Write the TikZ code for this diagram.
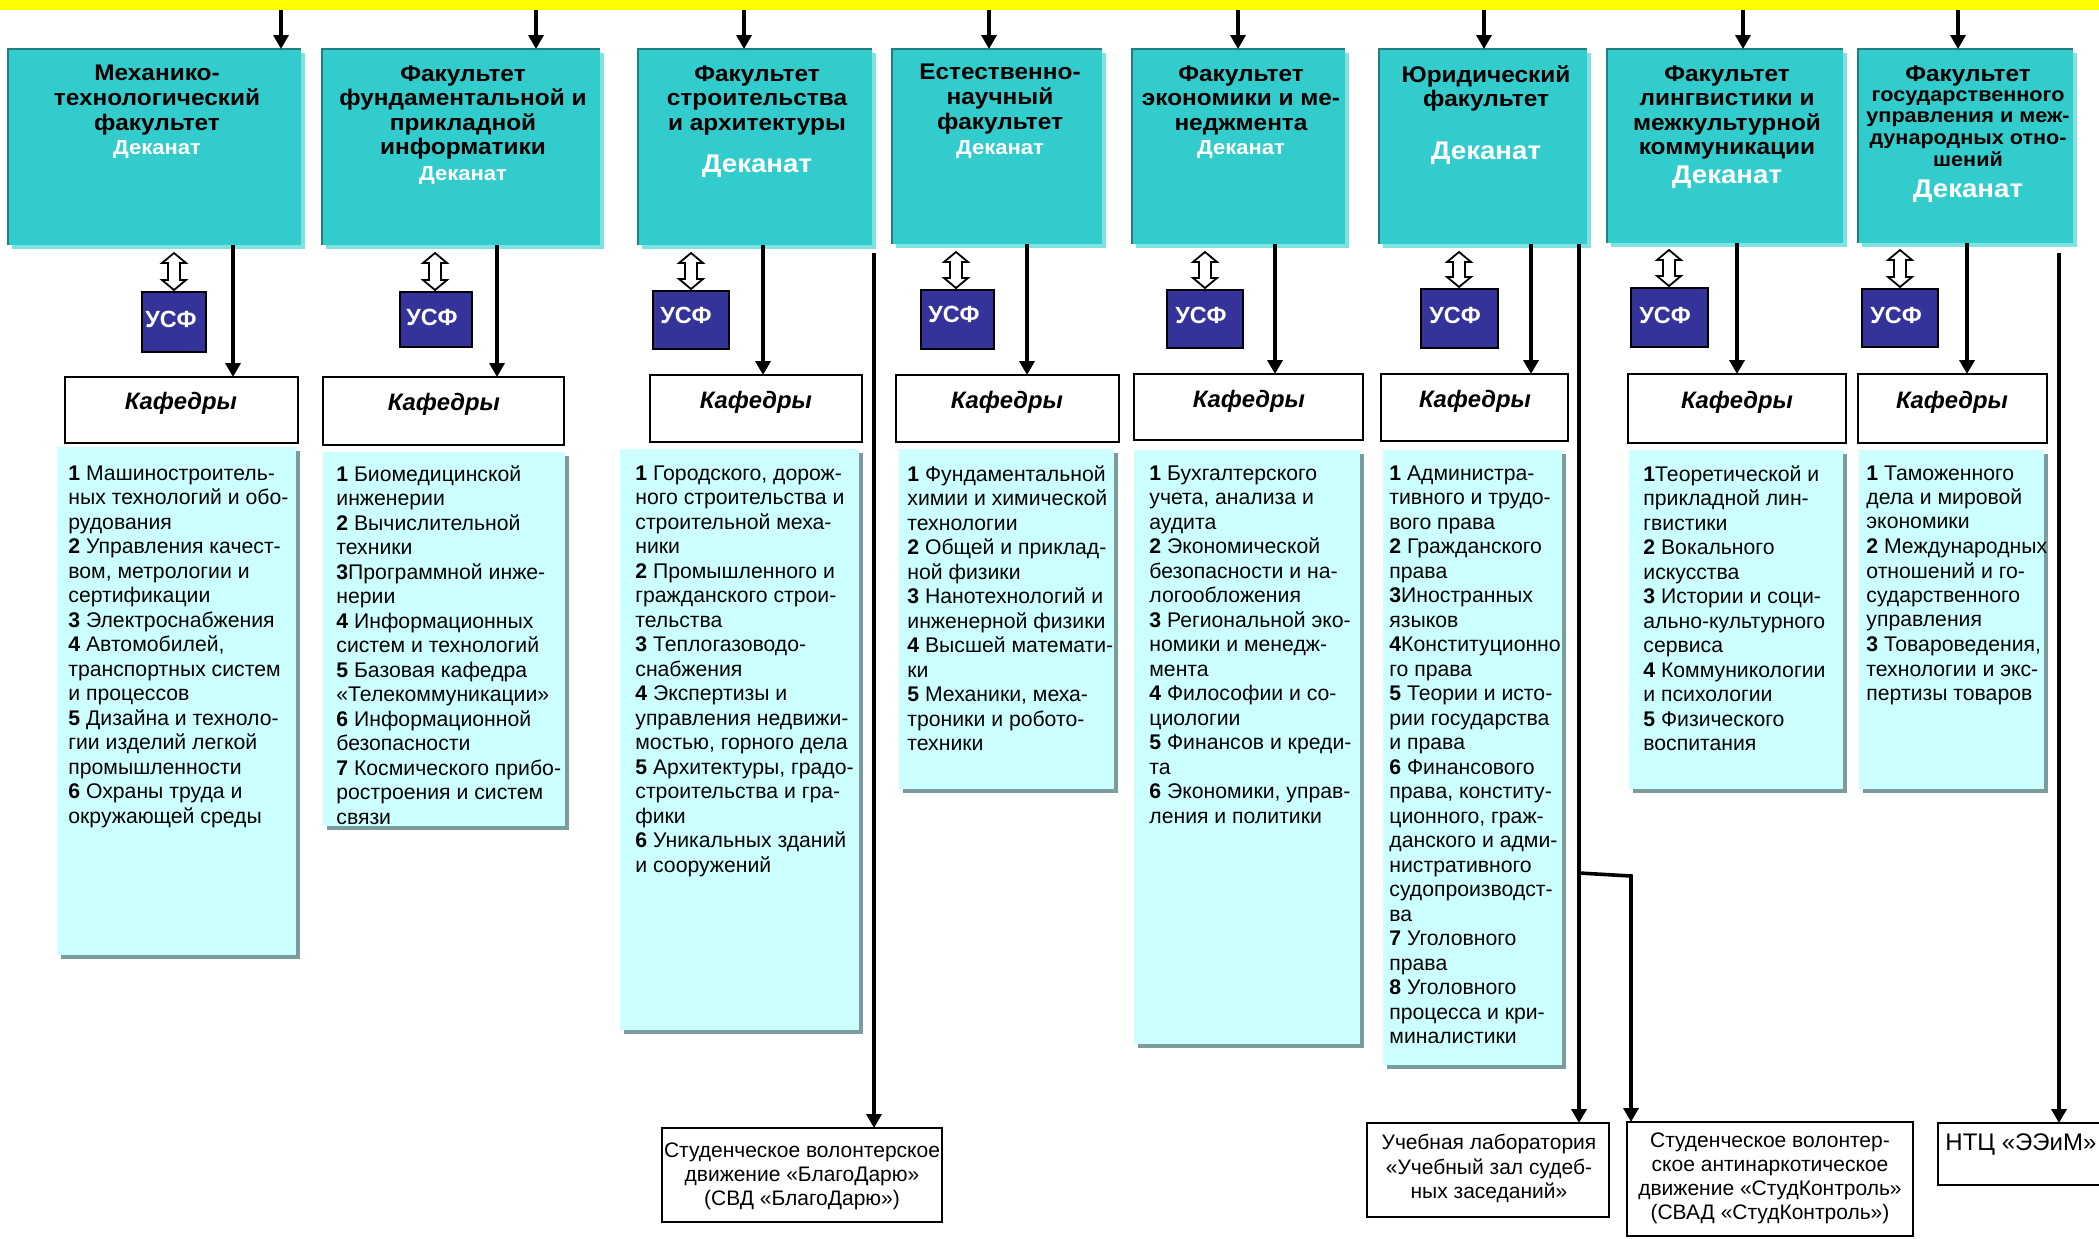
\documentclass[tikz,border=0pt]{standalone}
\usepackage{fontspec}
\setmainfont{Liberation Sans}
\newfontfamily\ttlfont[FakeStretch=1.08]{Liberation Sans}
\usetikzlibrary{arrows.meta,shadows}
\definecolor{ylw}{HTML}{FFFF00}
\definecolor{facfill}{HTML}{33CCCC}
\definecolor{facdark}{HTML}{217F80}
\definecolor{facshadow}{HTML}{7EE2E2}
\definecolor{usffill}{HTML}{333399}
\definecolor{listfill}{HTML}{CCFFFF}
\definecolor{listshadow}{HTML}{7A9C9C}
\newcommand\placebox[6]{\node[#1, minimum width={(#4-#2)*0.5pt}, minimum height={(#5-#3)*0.5pt}] (#6) at (#2,#3) {};}
\newcommand\dblarr[3]{\draw[dblst] (#1,#2) -- ++(12,10) -- ++(-6,0) -- (#1+6,#3-10) -- ++(6,0) -- (#1,#3) -- ++(-12,-10) -- ++(6,0) -- (#1-6,#2+10) -- ++(-6,0) -- cycle;}
\tikzset{
  bandst/.style={anchor=north west, inner sep=0, outer sep=0, fill=ylw},
  facbox/.style={anchor=north west, inner sep=0, outer sep=0, fill=facfill,
     general shadow={fill=facshadow, shadow xshift=2.2pt, shadow yshift=-2pt}},
  facedge/.style={draw=facdark, line width=1.4pt},
  usfbox/.style={anchor=north west, inner sep=0, outer sep=0, fill=usffill, draw=black, line width=0.8pt},
  kafbox/.style={anchor=north west, inner sep=0, outer sep=0, fill=white, draw=black, line width=1pt},
  listbox/.style={anchor=north west, inner sep=0, outer sep=0, fill=listfill,
     general shadow={fill=listshadow, shadow xshift=2pt, shadow yshift=-2pt}},
  botbox/.style={anchor=north west, inner sep=0, outer sep=0, fill=white, draw=black, line width=0.7pt},
  ttl/.style={anchor=north, align=center, inner sep=0, font={\ttlfont\fontsize{11.3}{12.3}\selectfont\bfseries}},
  ttlsmall/.style={anchor=north, align=center, inner sep=0, font={\ttlfont\fontsize{10}{10.9}\selectfont\bfseries}},
  dsmall/.style={anchor=base, inner sep=0, text=white, font={\ttlfont\fontsize{10.2}{12}\selectfont\bfseries}},
  dlarge/.style={anchor=base, inner sep=0, text=white, font={\ttlfont\fontsize{12.8}{14}\selectfont\bfseries}},
  usftext/.style={anchor=base, inner sep=0, text=white, font={\fontsize{11.7}{13}\selectfont\bfseries}},
  kaftext/.style={anchor=base, inner sep=0, font={\fontsize{11.9}{13}\selectfont\bfseries\itshape}},
  listtext/.style={anchor=north west, align=left, inner sep=0, font={\fontsize{10.6}{12.25}\selectfont}},
  bottext/.style={anchor=north, align=center, inner sep=0, font={\fontsize{10.5}{12.1}\selectfont}},
  arr/.style={line width=1.8pt, line join=miter, -{Triangle[length=7pt,width=7.5pt]}},
  dblst/.style={draw=black, line width=0.9pt, fill=white, line join=miter}
}
\begin{document}
\begin{tikzpicture}[x=0.5pt,y=-0.5pt]
\useasboundingbox (0,0) rectangle (2099,1238);
\fill[white] (0,0) rectangle (2099,1238);
% top band
\placebox{bandst}{0}{0}{2099}{10}{band}
% faculty boxes
\placebox{facbox}{8}{49}{301}{245}{b1}
\placebox{facbox}{322}{49}{600}{245}{b2}
\placebox{facbox}{638}{49}{872}{245}{b3}
\placebox{facbox}{892}{49}{1102}{244}{b4}
\placebox{facbox}{1132}{49}{1345}{244}{b5}
\placebox{facbox}{1379}{49}{1587}{244}{b6}
\placebox{facbox}{1607}{49}{1843}{243}{b7}
\placebox{facbox}{1858}{49}{2073}{243}{b8}
\foreach \b in {b1,b2,b3,b4,b5,b6,b7,b8}{
  \draw[facedge] (\b.south west) -- (\b.north west) -- (\b.north east);
}
% titles
\node[ttl] (h1) at (157,65) {Механико-\\технологический\\факультет};
\node[dsmall] (d1) at (157,154) {Деканат};
\node[ttl] (h2) at (463,65) {Факультет\\фундаментальной и\\прикладной\\информатики};
\node[dsmall] (d2) at (463,180) {Деканат};
\node[ttl] (h3) at (757,65) {Факультет\\строительства\\и архитектуры};
\node[dlarge] (d3) at (757,172) {Деканат};
\node[ttl] (h4) at (1000,64) {Естественно-\\научный\\факультет};
\node[dsmall] (d4) at (1000,154) {Деканат};
\node[ttl] (h5) at (1241,65) {Факультет\\экономики и ме-\\неджмента};
\node[dsmall] (d5) at (1241,154) {Деканат};
\node[ttl] (h6) at (1486,65) {Юридический\\факультет};
\node[dlarge] (d6) at (1486,159) {Деканат};
\node[ttl] (h7) at (1727,65) {Факультет\\лингвистики и\\межкультурной\\коммуникации};
\node[dlarge] (d7) at (1727,183) {Деканат};
\node[ttl] (h8a) at (1968,65) {Факультет};
\node[ttlsmall] (h8b) at (1968,87) {\vphantom{Г}государственного\\управления и меж-\\дународных отно-\\шений};
\node[dlarge] (d8) at (1968,197) {Деканат};
% USF boxes
\placebox{usfbox}{142}{292}{206}{352}{u1}
\placebox{usfbox}{400}{292}{472}{347}{u2}
\placebox{usfbox}{653}{291}{729}{349}{u3}
\placebox{usfbox}{921}{290}{994}{349}{u4}
\placebox{usfbox}{1167}{290}{1243}{348}{u5}
\placebox{usfbox}{1421}{289}{1498}{348}{u6}
\placebox{usfbox}{1631}{288}{1708}{347}{u7}
\placebox{usfbox}{1862}{289}{1938}{347}{u8}
\node[usftext] (ut1) at (171,327) {УСФ};
\node[usftext] (ut2) at (432,325) {УСФ};
\node[usftext] (ut3) at (686,323) {УСФ};
\node[usftext] (ut4) at (954,322) {УСФ};
\node[usftext] (ut5) at (1201,323) {УСФ};
\node[usftext] (ut6) at (1455,323) {УСФ};
\node[usftext] (ut7) at (1665,323) {УСФ};
\node[usftext] (ut8) at (1896,323) {УСФ};
% Kafedry boxes
\placebox{kafbox}{65}{377}{298}{443}{k1}
\placebox{kafbox}{323}{377}{564}{445}{k2}
\placebox{kafbox}{650}{375}{862}{442}{k3}
\placebox{kafbox}{896}{375}{1119}{442}{k4}
\placebox{kafbox}{1134}{374}{1363}{440}{k5}
\placebox{kafbox}{1381}{374}{1568}{441}{k6}
\placebox{kafbox}{1628}{374}{1846}{443}{k7}
\placebox{kafbox}{1858}{374}{2047}{443}{k8}
\node[kaftext] (kt1) at (181,409) {Кафедры};
\node[kaftext] (kt2) at (444,410) {Кафедры};
\node[kaftext] (kt3) at (756,408) {Кафедры};
\node[kaftext] (kt4) at (1007,408) {Кафедры};
\node[kaftext] (kt5) at (1249,407) {Кафедры};
\node[kaftext] (kt6) at (1475,407) {Кафедры};
\node[kaftext] (kt7) at (1737,408) {Кафедры};
\node[kaftext] (kt8) at (1952,408) {Кафедры};
% department lists
\placebox{listbox}{57}{447}{296}{955}{l1}
\placebox{listbox}{323}{452}{565}{826}{l2}
\placebox{listbox}{620}{449}{859}{1030}{l3}
\placebox{listbox}{899}{449}{1114}{789}{l4}
\placebox{listbox}{1134}{450}{1360}{1044}{l5}
\placebox{listbox}{1383}{450}{1562}{1065}{l6}
\placebox{listbox}{1629}{450}{1843}{789}{l7}
\placebox{listbox}{1859}{450}{2044}{789}{l8}
\node[listtext] (lt1) at (68,465) {\textbf{1} Машиностроитель-\\ных технологий и обо-\\рудования\\\textbf{2} Управления качест-\\вом, метрологии и\\сертификации\\\textbf{3} Электроснабжения\\\textbf{4} Автомобилей,\\транспортных систем\\и процессов\\\textbf{5} Дизайна и техноло-\\гии изделий легкой\\промышленности\\\textbf{6} Охраны труда и\\окружающей среды};
\node[listtext] (lt2) at (336,465) {\textbf{1} Биомедицинской\\инженерии\\\textbf{2} Вычислительной\\техники\\\textbf{3}Программной инже-\\нерии\\\textbf{4} Информационных\\систем и технологий\\\textbf{5} Базовая кафедра\\«Телекоммуникации»\\\textbf{6} Информационной\\безопасности\\\textbf{7} Космического прибо-\\ростроения и систем\\связи};
\node[listtext] (lt3) at (635,465) {\textbf{1} Городского, дорож-\\ного строительства и\\строительной меха-\\ники\\\textbf{2} Промышленного и\\гражданского строи-\\тельства\\\textbf{3} Теплогазоводо-\\снабжения\\\textbf{4} Экспертизы и\\управления недвижи-\\мостью, горного дела\\\textbf{5} Архитектуры, градо-\\строительства и гра-\\фики\\\textbf{6} Уникальных зданий\\и сооружений};
\node[listtext] (lt4) at (907,465) {\textbf{1} Фундаментальной\\химии и химической\\технологии\\\textbf{2} Общей и приклад-\\ной физики\\\textbf{3} Нанотехнологий и\\инженерной физики\\\textbf{4} Высшей математи-\\ки\\\textbf{5} Механики, меха-\\троники и робото-\\техники};
\node[listtext] (lt5) at (1149,465) {\textbf{1} Бухгалтерского\\учета, анализа и\\аудита\\\textbf{2} Экономической\\безопасности и на-\\логообложения\\\textbf{3} Региональной эко-\\номики и менедж-\\мента\\\textbf{4} Философии и со-\\циологии\\\textbf{5} Финансов и креди-\\та\\\textbf{6} Экономики, управ-\\ления и политики};
\node[listtext] (lt6) at (1389,465) {\textbf{1} Администра-\\тивного и трудо-\\вого права\\\textbf{2} Гражданского\\права\\\textbf{3}Иностранных\\языков\\\textbf{4}Конституционно\\го права\\\textbf{5} Теории и исто-\\рии государства\\и права\\\textbf{6} Финансового\\права, конститу-\\ционного, граж-\\данского и адми-\\нистративного\\судопроизводст-\\ва\\\textbf{7} Уголовного\\права\\\textbf{8} Уголовного\\процесса и кри-\\миналистики};
\node[listtext] (lt7) at (1643,465) {\textbf{1}Теоретической и\\прикладной лин-\\гвистики\\\textbf{2} Вокального\\искусства\\\textbf{3} Истории и соци-\\ально-культурного\\сервиса\\\textbf{4} Коммуникологии\\и психологии\\\textbf{5} Физического\\воспитания};
\node[listtext] (lt8) at (1866,465) {\textbf{1} Таможенного\\дела и мировой\\экономики\\\textbf{2} Международных\\отношений и го-\\сударственного\\управления\\\textbf{3} Товароведения,\\технологии и экс-\\пертизы товаров};
% bottom boxes
\placebox{botbox}{662}{1128}{942}{1222}{svd}
\placebox{botbox}{1367}{1123}{1609}{1217}{lab}
\placebox{botbox}{1627}{1122}{1913}{1236}{svad}
\placebox{botbox}{1938}{1123}{2120}{1185}{ntc}
\node[bottext] (svdt) at (802,1142) {Студенческое волонтерское\\движение «БлагоДарю»\\(СВД «БлагоДарю»)};
\node[bottext] (labt) at (1489,1134) {Учебная лаборатория\\«Учебный зал судеб-\\ных заседаний»};
\node[bottext] (svadt) at (1770,1132) {Студенческое волонтер-\\ское антинаркотическое\\движение «СтудКонтроль»\\(СВАД «СтудКонтроль»)};
\node[anchor=base west, inner sep=0, font={\fontsize{12}{13}\selectfont}] (ntct) at (1945,1150) {НТЦ «ЭЭиМ»};
% arrows from the band
\foreach \x/\b in {281/b1,536/b2,744/b3,989/b4,1238/b5,1484/b6,1743/b7,1958/b8}{
  \coordinate (tt) at (\x,0);
  \draw[arr] (tt |- band.south) -- (tt |- \b.north);
}
% arrows to Kafedry
\foreach \x/\b/\k in {233/b1/k1,497/b2/k2,763/b3/k3,1027/b4/k4,1275/b5/k5,1531/b6/k6,1737/b7/k7,1967/b8/k8}{
  \coordinate (dd) at (\x,0);
  \draw[arr] (dd |- \b.south) -- (dd |- \k.north);
}
% double arrows to USF
\dblarr{174}{253}{290}
\dblarr{435}{253}{290}
\dblarr{691}{253}{289}
\dblarr{956}{252}{288}
\dblarr{1205}{252}{288}
\dblarr{1459}{252}{287}
\dblarr{1669}{250}{286}
\dblarr{1900}{250}{287}
% long connectors
\coordinate (v3) at (874,253);
\draw[arr] (v3) -- (v3 |- svd.north);
\coordinate (v6) at (1579,0);
\draw[arr] (v6 |- b6.south) -- (v6 |- lab.north);
\coordinate (br1) at (1579,873);
\coordinate (br2) at (1631,876);
\draw[arr] (br1) -- (br2) -- (br2 |- svad.north);
\coordinate (v8) at (2059,253);
\draw[arr] (v8) -- (v8 |- ntc.north);
\end{tikzpicture}
\end{document}
